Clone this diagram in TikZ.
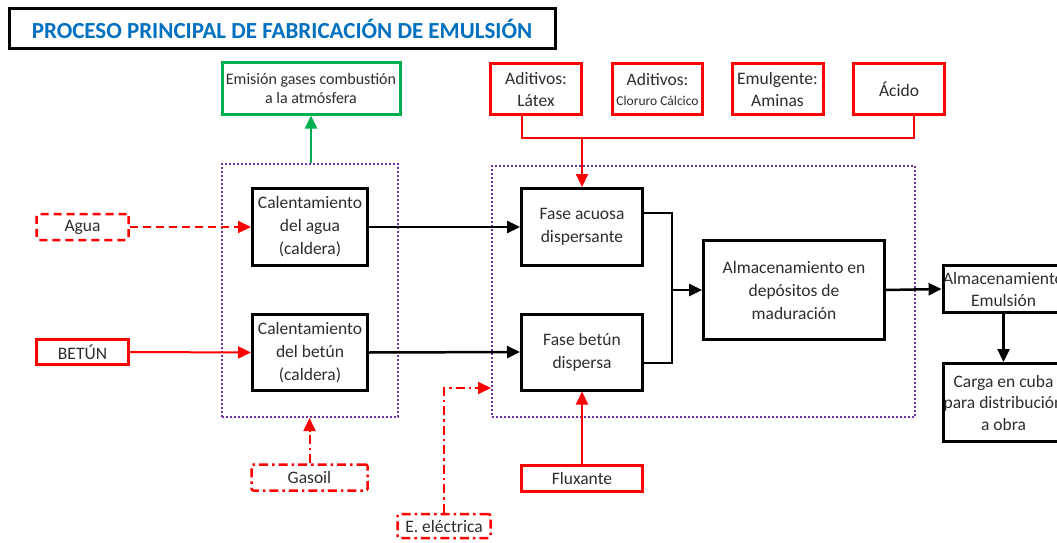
\documentclass[tikz,border=0pt]{standalone}
\usepackage{fontspec}
\setmainfont{Carlito}
\usetikzlibrary{arrows.meta}
\definecolor{tblue}{RGB}{0,112,192}
\definecolor{pur}{RGB}{112,48,160}
\definecolor{gr}{RGB}{0,176,80}
\definecolor{txt}{RGB}{45,45,45}
\begin{document}
\begin{tikzpicture}[x=1pt,y=-1pt,
  every node/.style={align=center,text=txt,font=\fontsize{17.5}{23}\selectfont,inner sep=0pt},
  bbox/.style={draw=black,line width=3pt},
  rbx/.style={draw=red,line width=3pt},
  rdash/.style={draw=red,line width=2.5pt,dash pattern=on 8pt off 5pt,rounded corners=2pt},
  rdd/.style={draw=red,line width=2.5pt,dash pattern=on 9pt off 4pt on 2.5pt off 4pt,rounded corners=2pt},
  grp/.style={draw=pur,line width=2pt,dash pattern=on 2pt off 2pt},
  tip/.style={-{Triangle[length=13pt,width=12pt]}},
  barrow/.style={tip,draw=black,line width=2.5pt},
  rarrow/.style={tip,draw=red,line width=2pt,color=red},
]
\clip (0,0) rectangle (1057,543);
\fill[white] (0,0) rectangle (1057,543);

% title
\node[bbox,minimum width=546pt,minimum height=40pt] (title) at (282,29)
  {\fontsize{23}{26}\selectfont\bfseries\color{tblue}PROCESO PRINCIPAL DE FABRICACIÓN DE EMULSIÓN};

% group frames
\node[grp,minimum width=176pt,minimum height=253pt] (lbox) at (310,290.5) {};
\node[grp,minimum width=423pt,minimum height=251pt] (rbox) at (703.5,291.5) {};

% emission
\node[draw=gr,line width=3pt,minimum width=178pt,minimum height=51pt,font=\fontsize{16}{19}\selectfont] (emis) at (311,88.5)
  {Emisión gases combustión\\a la atmósfera};

% heating
\node[bbox,minimum width=115pt,minimum height=77pt] (cagua) at (310,227) {Calentamiento\\del agua\\(caldera)};
\node[bbox,minimum width=115pt,minimum height=76pt] (cbetun) at (310,352.5) {Calentamiento\\del betún\\(caldera)};

% inputs left
\node[rdash,minimum width=92pt,minimum height=26pt] (agua) at (82.5,227) {Agua};
\node[rbx,minimum width=92pt,minimum height=25pt] (betun) at (82.5,352) {BETÚN};
\node[rdd,minimum width=116pt,minimum height=26pt] (gasoil) at (309.5,477.5) {Gasoil};
\node[rdd,minimum width=93pt,minimum height=24pt] (elec) at (444,526) {E. eléctrica};

% additives
\node[rbx,minimum width=91pt,minimum height=51pt,font=\fontsize{17.5}{22}\selectfont] (latex) at (536,89) {Aditivos:\\Látex};
\node[rbx,minimum width=90pt,minimum height=51pt,font=\fontsize{17.5}{22}\selectfont] (clor) at (657.5,89) {Aditivos:\\[-2pt]{\fontsize{13.5}{14}\selectfont Cloruro Cálcico}};
\node[rbx,minimum width=91pt,minimum height=51pt,font=\fontsize{17.5}{22}\selectfont] (emulg) at (777.5,89) {Emulgente:\\Aminas};
\node[rbx,minimum width=91pt,minimum height=51pt] (acido) at (899,89) {Ácido};

% phases
\node[bbox,minimum width=121pt,minimum height=77pt] (acuosa) at (582,227) {Fase acuosa\\dispersante};
\node[bbox,minimum width=121pt,minimum height=76pt] (fbetun) at (582,352) {Fase betún\\dispersa};
\node[bbox,minimum width=181pt,minimum height=99pt] (almac) at (794,290) {Almacenamiento en\\depósitos de\\maduración};
\node[rbx,minimum width=121pt,minimum height=26pt] (flux) at (582,478.5) {Fluxante};

% right
\node[bbox,minimum width=116pt,minimum height=47pt,font=\fontsize{17.5}{22}\selectfont] (aemul) at (1003.5,289) {Almacenamiento\\Emulsión};
\node[bbox,minimum width=116pt,minimum height=78pt,font=\fontsize{17.5}{21.5}\selectfont] (carga) at (1003.5,402.5) {Carga en cuba\\para distribución\\a obra};

% connectors
\draw[tip,draw=gr,color=gr,line width=2pt] (emis.south |- lbox.north) -- (emis.south);

\coordinate (bus1) at (522,138);
\coordinate (bus2) at (914,138);
\draw[red,line width=2.5pt] (latex.south -| bus1) -- (bus1) -- (bus2) -- (acido.south -| bus2);
\draw[rarrow] (acuosa.north |- bus1) -- (acuosa.north);

\draw[rarrow,dash pattern=on 8pt off 5pt] (agua.east) -- (cagua.west);
\draw[rarrow] (betun.east) -- (cbetun.west);
\draw[rarrow,dash pattern=on 9pt off 4pt on 2.5pt off 4pt] (gasoil.north) -- (gasoil.north |- lbox.south);
\coordinate (eturn) at (444,388);
\draw[rarrow,dash pattern=on 9pt off 4pt on 2.5pt off 4pt] (elec.north) -- (eturn) -- (eturn -| rbox.west);
\draw[rarrow] (flux.north) -- (fbetun.south);

\draw[barrow] (cagua.east) -- (acuosa.west);
\draw[barrow] (cbetun.east) -- (fbetun.west);
\coordinate (jn) at (672,290);
\draw[black,line width=2.5pt] ([yshift=14pt]acuosa.east) -| (jn) |- ([yshift=-11pt]fbetun.east);
\draw[barrow] (jn) -- (almac.west);
\draw[barrow] (almac.east) -- (aemul.west);
\draw[barrow] (aemul.south) -- (carga.north);
\end{tikzpicture}
\end{document}
